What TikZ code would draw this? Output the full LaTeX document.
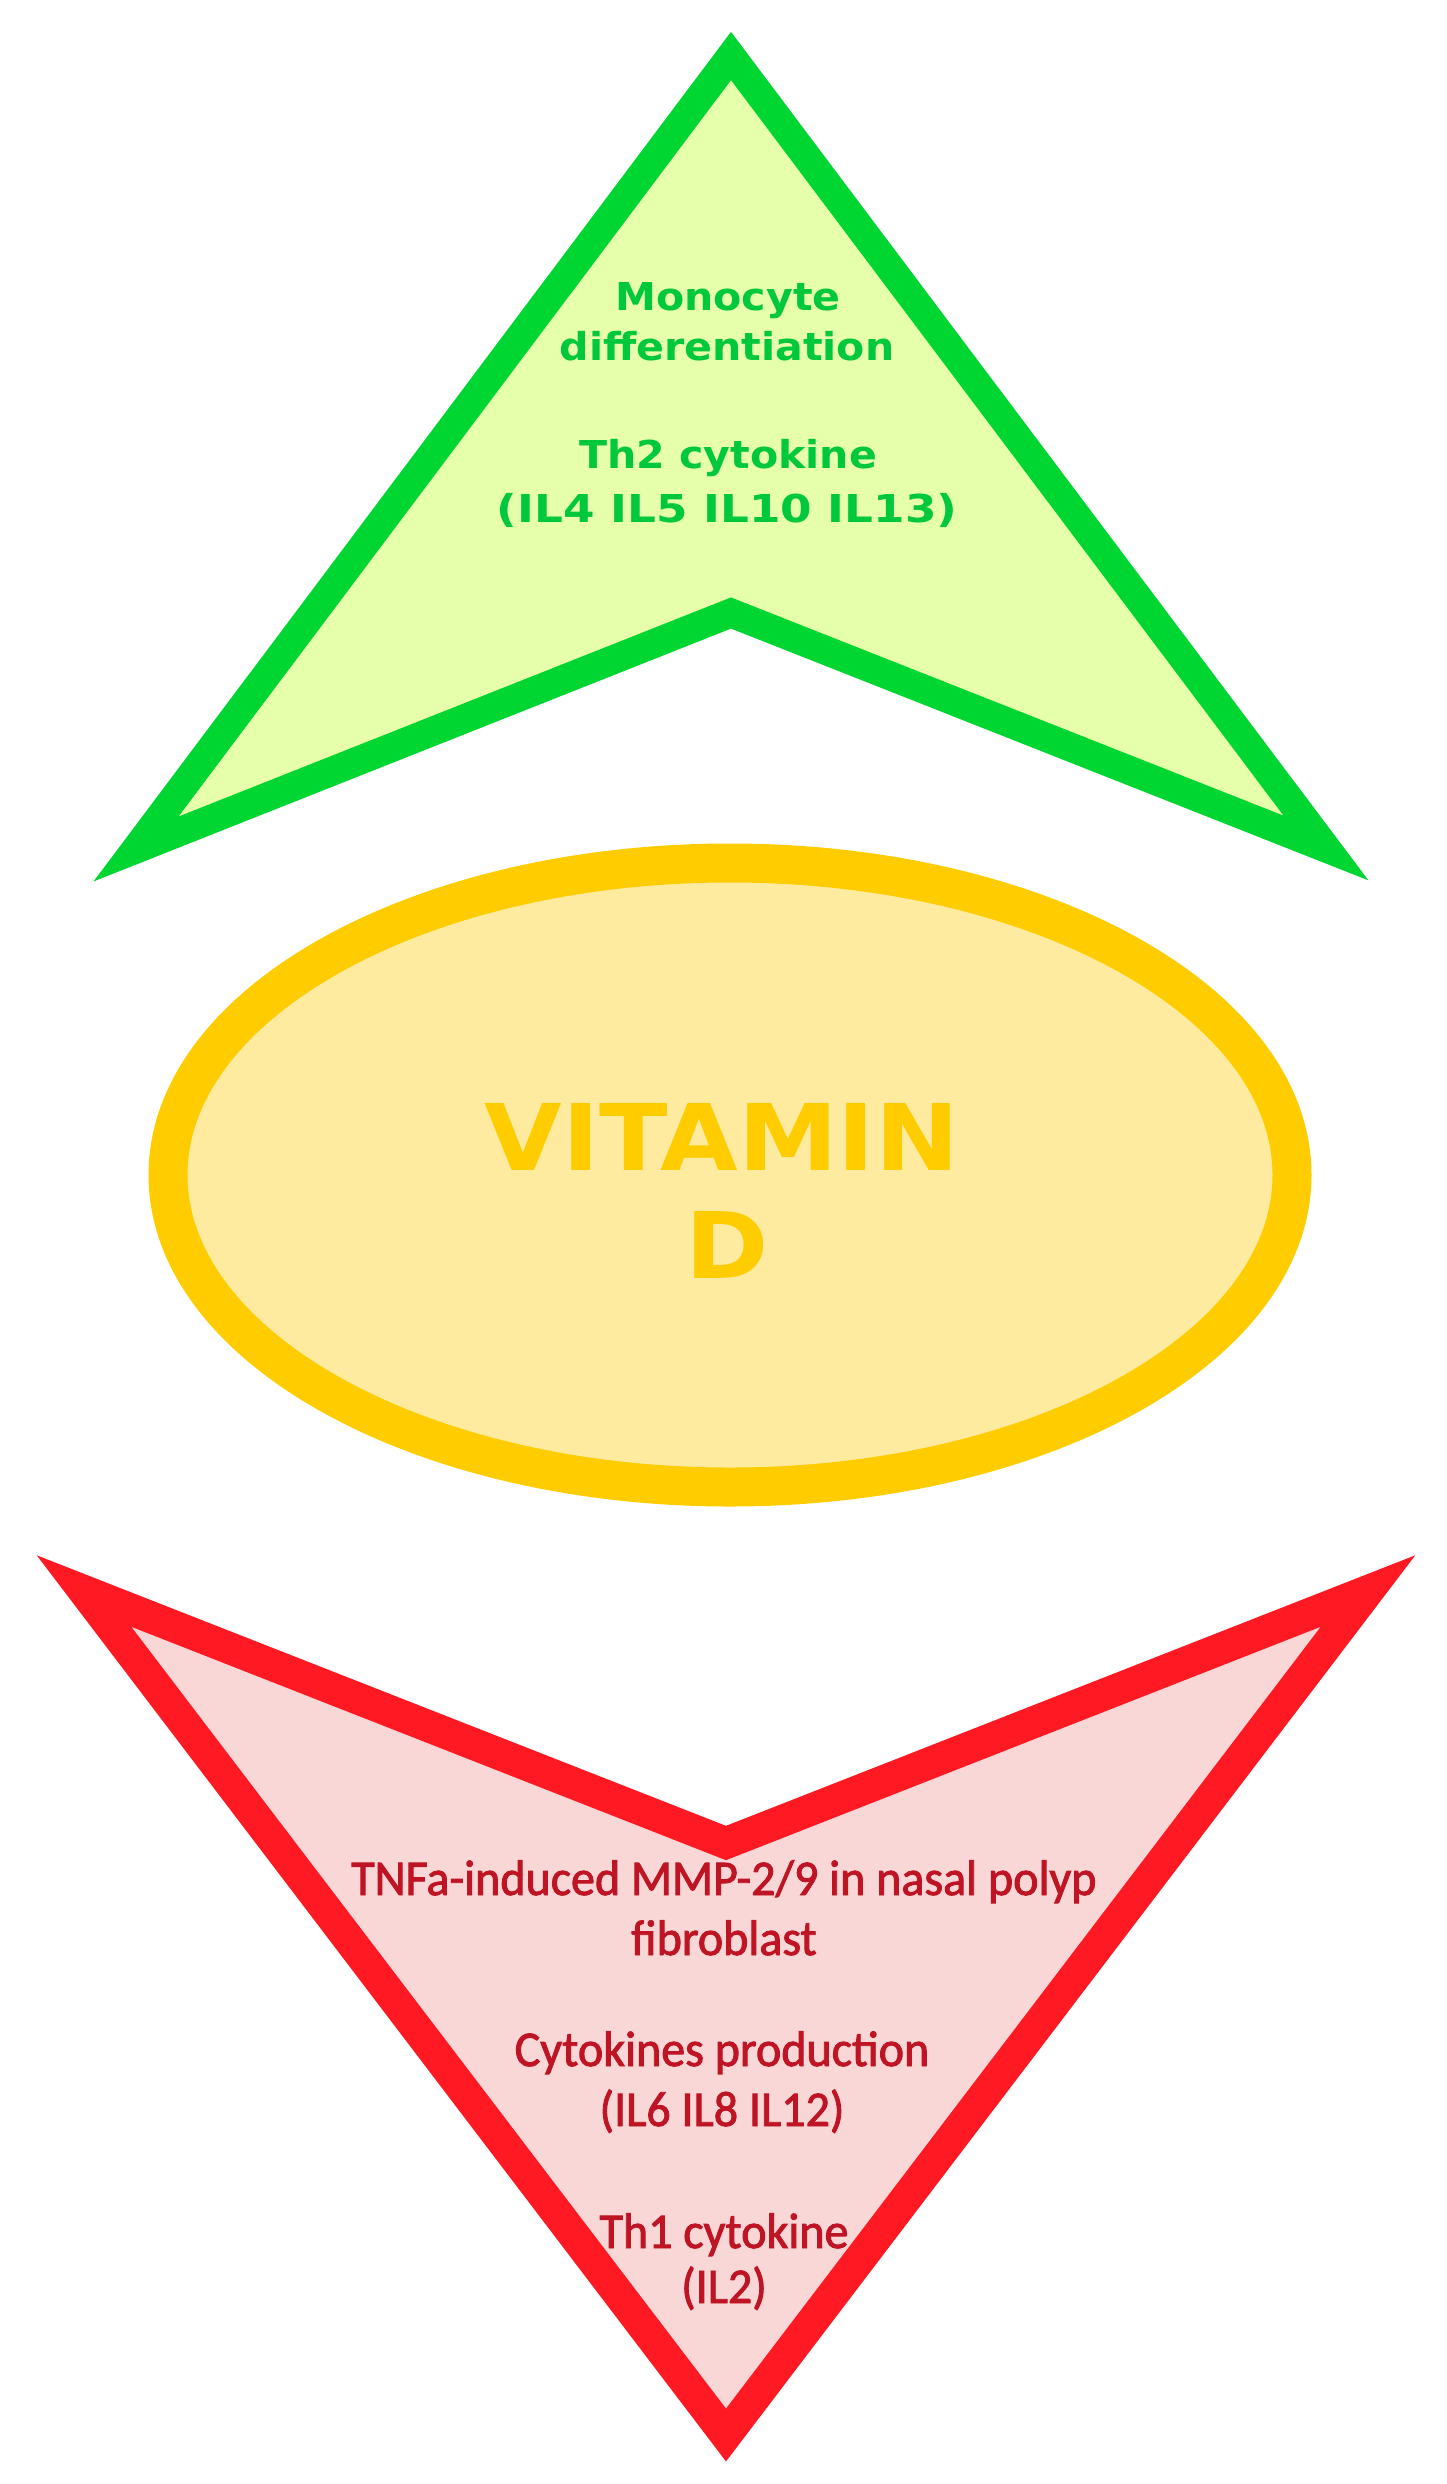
\documentclass[tikz,border=0pt]{standalone}
\usepackage{fontspec}
\newfontfamily\verdfont{DejaVu Sans}[FakeStretch=1.07]
\newfontfamily\verdwide{DejaVu Sans}[FakeStretch=1.18]
\newfontfamily\vitfont{DejaVu Sans}[FakeStretch=1.09]
\newfontfamily\carlfont{Carlito}[FakeStretch=0.96, FakeBold=1.8]
\definecolor{gline}{RGB}{0,214,50}
\definecolor{gfill}{RGB}{230,255,170}
\definecolor{gtext}{RGB}{0,200,60}
\definecolor{yline}{RGB}{255,204,0}
\definecolor{yfill}{RGB}{255,235,160}
\definecolor{ytext}{RGB}{255,204,0}
\definecolor{rline}{RGB}{255,25,35}
\definecolor{rfill}{RGB}{250,215,215}
\definecolor{rtext}{RGB}{190,20,35}
\tikzset{
  greentxt/.style={inner sep=0pt, anchor=base, text=gtext, font=\verdfont\bfseries\fontsize{19.2pt}{24pt}\selectfont},
  greenwidetxt/.style={inner sep=0pt, anchor=base, text=gtext, font=\verdwide\bfseries\fontsize{19.2pt}{24pt}\selectfont},
  vittxt/.style={inner sep=0pt, anchor=base, text=ytext, font=\vitfont\bfseries\fontsize{46pt}{54pt}\selectfont},
  redtxt/.style={inner sep=0pt, anchor=base, text=rtext, font=\carlfont\fontsize{25pt}{29pt}\selectfont},
  greenborder/.style={draw=gline, line width=14.5pt, line join=miter, miter limit=10},
  redborder/.style={draw=rline, line width=16pt, line join=miter, miter limit=10},
  ovalborder/.style={draw=yline, fill=yfill, line width=19.5pt}
}
\begin{document}
\begin{tikzpicture}[x=0.5pt,y=-0.5pt]
\useasboundingbox (0,0) rectangle (1446,2484);
% green arrow (up)
\coordinate (gA) at (731,56);
\coordinate (gR) at (1326,848);
\coordinate (gN) at (731,613);
\coordinate (gL) at (136,849);
\fill[gfill] (gA) -- (gR) -- (gN) -- (gL) -- cycle;
\node[greentxt] (g1) at (728,310) {Monocyte};
\node[greentxt] (g2) at (727,360) {differentiation};
\node[greentxt] (g3) at (728,468) {Th2 cytokine};
\node[greenwidetxt] (g4) at (727,522) {(IL4 IL5 IL10 IL13)};
\draw[greenborder] (gA) -- (gR) -- (gN) -- (gL) -- cycle;
% vitamin D oval
\draw[ovalborder] (730,1175) ellipse [x radius=281pt, y radius=156pt];
\node[vittxt] (v1) at (722,1170) {VITAMIN};
\node[vittxt] (v2) at (727,1278) {D};
% red arrow (down)
\coordinate (rL) at (84,1591);
\coordinate (rN) at (726,1843);
\coordinate (rR) at (1368,1591);
\coordinate (rB) at (726,2435);
\fill[rfill] (rL) -- (rN) -- (rR) -- (rB) -- cycle;
\node[redtxt] (r1) at (724,1895) {TNFa-induced MMP-2/9 in nasal polyp};
\node[redtxt] (r2) at (724,1955) {fibroblast};
\node[redtxt] (r3) at (722,2066) {Cytokines production};
\node[redtxt] (r4) at (722,2126) {(IL6 IL8 IL12)};
\node[redtxt] (r5) at (724,2248) {Th1 cytokine};
\node[redtxt] (r6) at (724,2303) {(IL2)};
\draw[redborder] (rL) -- (rN) -- (rR) -- (rB) -- cycle;
\end{tikzpicture}
\end{document}
